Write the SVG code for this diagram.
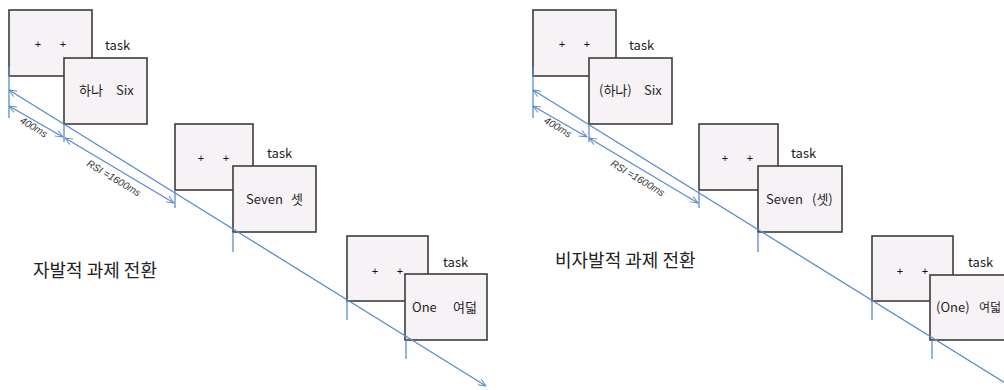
<svg xmlns="http://www.w3.org/2000/svg" width="1004" height="390" viewBox="0 0 1004 390">
<defs>
<marker id="ah" viewBox="0 0 10 10" refX="9.5" refY="5" markerWidth="8" markerHeight="8" orient="auto-start-reverse" markerUnits="userSpaceOnUse">
<path d="M0,1 L9.5,5 L0,9" fill="none" stroke="#5a8ccc" stroke-width="1.2"/>
</marker>
<style>
.box{fill:#f6f2f6;stroke:#3c3c3c;stroke-width:1.6}
.ln{stroke:#5a8ccc;stroke-width:1.3;fill:none}
.t{font-family:"Noto Sans CJK KR","Liberation Sans",sans-serif;font-size:13px;fill:#1e1e1e}
.pl{font-family:"Liberation Sans",sans-serif;font-size:11px;fill:#111;text-anchor:middle}
.sm{font-family:"Liberation Sans",sans-serif;font-size:10px;font-style:italic;fill:#333;text-anchor:middle}
.lab{font-family:"Noto Sans CJK KR",sans-serif;font-size:18px;fill:#222}
</style>
</defs>
<rect width="1004" height="390" fill="#ffffff"/>

<!-- LEFT PANEL -->
<g id="L-fix1"><rect class="box" x="9" y="10" width="83" height="66"/><text class="pl" x="38" y="48">+</text><text class="pl" x="63" y="48">+</text></g>
<g id="L-task1"><text class="t" x="105" y="50">task</text></g>
<g id="L-stim1"><rect class="box" x="64" y="58" width="83" height="66"/><text class="t" x="79" y="95">하나</text><text class="t" x="116" y="95">Six</text></g>
<g id="L-fix2"><rect class="box" x="175" y="124" width="78" height="66"/><text class="pl" x="201" y="162">+</text><text class="pl" x="226" y="162">+</text></g>
<g id="L-task2"><text class="t" x="267" y="158">task</text></g>
<g id="L-stim2"><rect class="box" x="233" y="166" width="83" height="66"/><text class="t" x="246" y="204">Seven</text><text class="t" x="291" y="204">셋</text></g>
<g id="L-fix3"><rect class="box" x="347" y="236" width="81" height="65"/><text class="pl" x="375" y="275">+</text><text class="pl" x="400" y="275">+</text></g>
<g id="L-task3"><text class="t" x="443" y="267">task</text></g>
<g id="L-stim3"><rect class="box" x="405" y="274" width="82" height="66"/><text class="t" x="412" y="312">One</text><text class="t" x="453" y="312">여덟</text></g>
<g id="L-label"><text class="lab" x="33" y="277">자발적 과제 전환</text></g>

<!-- RIGHT PANEL -->
<g id="R-fix1"><rect class="box" x="533" y="10" width="83" height="66"/><text class="pl" x="562" y="48">+</text><text class="pl" x="587" y="48">+</text></g>
<g id="R-task1"><text class="t" x="629" y="50">task</text></g>
<g id="R-stim1"><rect class="box" x="589" y="58" width="83" height="66"/><text class="t" x="599" y="95">(하나)</text><text class="t" x="644" y="95">Six</text></g>
<g id="R-fix2"><rect class="box" x="699" y="124" width="79" height="66"/><text class="pl" x="725" y="162">+</text><text class="pl" x="750" y="162">+</text></g>
<g id="R-task2"><text class="t" x="791" y="158">task</text></g>
<g id="R-stim2"><rect class="box" x="758" y="166" width="84" height="66"/><text class="t" x="766" y="204">Seven</text><text class="t" x="812" y="204">(셋)</text></g>
<g id="R-fix3"><rect class="box" x="872" y="236" width="81" height="65"/><text class="pl" x="900" y="275">+</text><text class="pl" x="925" y="275">+</text></g>
<g id="R-task3"><text class="t" x="968" y="267">task</text></g>
<g id="R-stim3"><rect class="box" x="930" y="275" width="84" height="65"/><text class="t" x="936" y="312">(One)</text><text class="t" x="979" y="312" style="font-size:12px">여덟</text></g>
<g id="R-label"><text class="lab" x="555" y="267">비자발적 과제 전환</text></g>

<!-- CONNECTORS -->
<g id="connectors">
<line class="ln" x1="9" y1="67" x2="9" y2="118"/>
<line class="ln" x1="64" y1="124" x2="64" y2="142"/>
<line class="ln" x1="175" y1="190" x2="175" y2="208"/>
<line class="ln" x1="233" y1="232" x2="233" y2="252"/>
<line class="ln" x1="347" y1="301" x2="347" y2="320"/>
<line class="ln" x1="406" y1="340" x2="406" y2="359"/>
<line class="ln" x1="9" y1="90" x2="486" y2="386" marker-start="url(#ah)" marker-end="url(#ah)"/>
<line class="ln" x1="9" y1="106" x2="63" y2="137" marker-start="url(#ah)" marker-end="url(#ah)"/>
<line class="ln" x1="65" y1="138" x2="174" y2="203" marker-start="url(#ah)" marker-end="url(#ah)"/>
<line class="ln" x1="533" y1="67" x2="533" y2="118"/>
<line class="ln" x1="589" y1="124" x2="589" y2="142"/>
<line class="ln" x1="699" y1="190" x2="699" y2="208"/>
<line class="ln" x1="758" y1="232" x2="758" y2="252"/>
<line class="ln" x1="872" y1="301" x2="872" y2="320"/>
<line class="ln" x1="932" y1="340" x2="932" y2="359"/>
<line class="ln" x1="533" y1="90" x2="1010" y2="386" marker-start="url(#ah)"/>
<line class="ln" x1="533" y1="106" x2="587" y2="137" marker-start="url(#ah)" marker-end="url(#ah)"/>
<line class="ln" x1="589" y1="138" x2="698" y2="203" marker-start="url(#ah)" marker-end="url(#ah)"/>
</g>

<g id="timing-labels">
<text class="sm" transform="translate(32,130) rotate(31)">400ms</text>
<text class="sm" transform="translate(112,181) rotate(31)">RSI =1600ms</text>
<text class="sm" transform="translate(556,130) rotate(31)">400ms</text>
<text class="sm" transform="translate(636,181) rotate(31)">RSI =1600ms</text>
</g>
</svg>
